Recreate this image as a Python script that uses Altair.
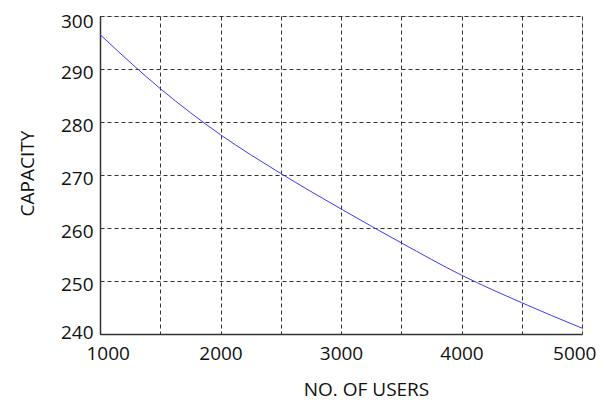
import altair as alt
import pandas as pd

users = [1000, 1500, 2000, 2500, 3000, 3500, 4000, 4500, 5000]
capacity = [296.5, 286.3, 277.6, 270.3, 263.6, 257.2, 251.1, 245.9, 241.1]
x_ticks = [1000, 1500, 2000, 2500, 3000, 3500, 4000, 4500, 5000]
y_ticks = [240, 250, 260, 270, 280, 290, 300]

df = pd.DataFrame({"users": users, "capacity": capacity})

FONT = "Open Sans"
TXT = "#111111"

chart = alt.Chart(df).mark_line(
    color="#3a3aff", strokeWidth=1, interpolate="monotone", clip=True
).encode(
    x=alt.X(
        "users:Q",
        scale=alt.Scale(domain=[1000, 5000], nice=False, zero=False),
        axis=alt.Axis(
            title="NO. OF USERS",
            values=x_ticks,
            labelExpr="datum.value % 1000 == 0 ? datum.label : ''",
            format="d",
            ticks=False,
            labelFlush=True,
            labelFlushOffset=14,
            labelPadding=10,
            labelFont=FONT, labelFontSize=19, labelColor=TXT,
            titleFont=FONT, titleFontSize=19, titleFontWeight="normal",
            titleColor=TXT,
            titleX=266, titleY=61, titleAlign="center", titleBaseline="alphabetic",
            domainColor="#333333", domainWidth=1.5,
            grid=True, gridColor="#333333", gridDash=[4, 3], gridWidth=1,
            gridOpacity=1,
        ),
    ),
    y=alt.Y(
        "capacity:Q",
        scale=alt.Scale(domain=[240, 300], nice=False, zero=False),
        axis=alt.Axis(
            title="CAPACITY",
            values=y_ticks,
            format="d",
            ticks=False,
            labelFlush=False,
            labelOffset={"expr": "datum.value == 240 ? -2 : (datum.value == 300 ? 5 : 3)"},
            labelPadding=7,
            labelFont=FONT, labelFontSize=19, labelColor=TXT,
            titleFont=FONT, titleFontSize=19, titleFontWeight="normal",
            titleColor=TXT,
            titleX=-73, titleY=157, titleAlign="center", titleBaseline="middle",
            titleAngle=-90,
            domainColor="#333333", domainWidth=1.5,
            grid=True, gridColor="#333333", gridDash=[4, 3], gridWidth=1,
            gridOpacity=1,
        ),
    ),
).properties(
    width=482,
    height=318,
    autosize=alt.AutoSizeParams(type="none"),
    padding={"left": 92, "top": 8, "right": 16, "bottom": 66},
).configure_view(
    stroke="#8a8a8a", strokeWidth=2
).configure(background="white")

chart.save("out.html", embed_options={"renderer": "svg", "actions": False})
